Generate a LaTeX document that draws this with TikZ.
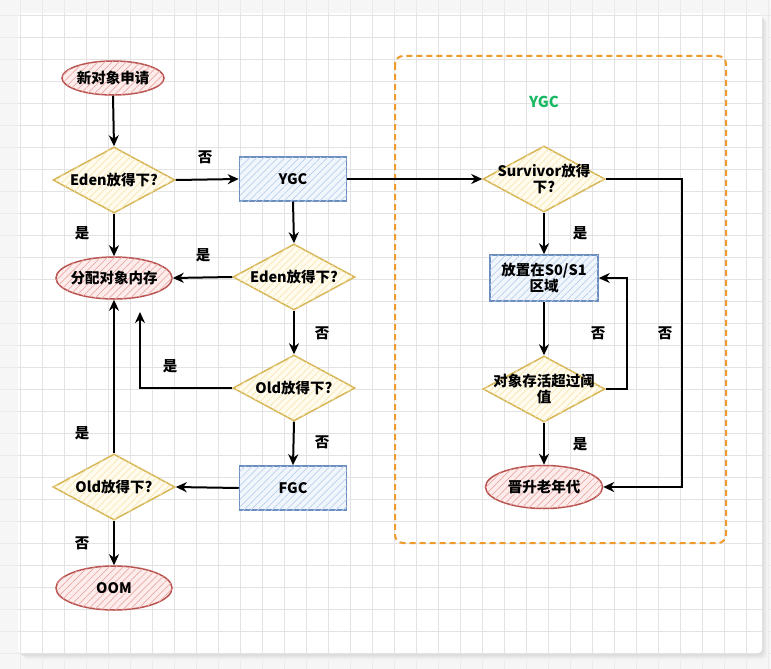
\documentclass[tikz,border=0pt]{standalone}
\usepackage{fontspec}
\setmainfont{Noto Sans CJK SC}
\usetikzlibrary{shapes.geometric,arrows.meta,patterns.meta,calc}
\definecolor{ellline}{HTML}{B85450}
\definecolor{ellfill}{HTML}{FCEDEC}
\definecolor{ellhatch}{HTML}{EEA9A7}
\definecolor{dialine}{HTML}{D6B656}
\definecolor{diafill}{HTML}{FFFBEE}
\definecolor{diahatch}{HTML}{F8E7B0}
\definecolor{recline}{HTML}{6C8EBF}
\definecolor{recfill}{HTML}{F1F6FD}
\definecolor{rechatch}{HTML}{BCD0EC}
\definecolor{orangeline}{HTML}{EE9A2C}
\definecolor{greentxt}{HTML}{18B863}
\definecolor{gridc}{HTML}{E3E3E3}
\definecolor{outbg}{HTML}{F6F6F6}
\begin{document}
\begin{tikzpicture}[x=1pt,y=-1pt,
  txt/.style={font=\bfseries\fontsize{14.5}{16.5}\selectfont, align=center, inner sep=0pt, text=black},
  T/.style={label={[txt]center:{#1}}},
  ell/.style={ellipse, draw=ellline, line width=1.5pt, fill=ellfill,
    postaction={pattern={Lines[angle=45,distance=5pt,line width=0.7pt]}, pattern color=ellhatch},
    inner sep=0pt},
  dia/.style={diamond, draw=dialine, line width=1.5pt, fill=diafill,
    postaction={pattern={Lines[angle=45,distance=5pt,line width=0.7pt]}, pattern color=diahatch},
    inner sep=0pt, minimum width=122pt, minimum height=66pt},
  rec/.style={rectangle, draw=recline, line width=1.5pt, fill=recfill,
    postaction={pattern={Lines[angle=45,distance=5pt,line width=0.7pt]}, pattern color=rechatch},
    inner sep=0pt},
  arr/.style={line width=2pt, draw=black, -{Stealth[length=11pt,width=10pt,inset=3.5pt]}},
  el/.style={font=\bfseries\fontsize{14.5}{16.5}\selectfont, inner sep=0pt, text=black}
]
\useasboundingbox (0,0) rectangle (771,669);
% background
\fill[outbg] (0,0) rectangle (771,669);
\foreach \x in {20,42,...,771} \draw[gridc!70, line width=0.7pt] (\x,0) -- (\x,669);
\foreach \y in {15,37,...,669} \draw[gridc!70, line width=0.7pt] (0,\y) -- (771,\y);
% card shadow
\foreach \o/\c in {7/4,6/6,5/8,4/10,3/13} \fill[black!\c, rounded corners=5] (18+\o-1,13+\o) rectangle (762+\o-1,653+\o);
\fill[white, rounded corners=4] (18,13) rectangle (762,653);
\begin{scope}
\clip[rounded corners=4] (18,13) rectangle (762,653);
\foreach \x in {20,42,...,771} \draw[gridc, line width=0.7pt] (\x,13) -- (\x,653);
\foreach \y in {15,37,...,669} \draw[gridc, line width=0.7pt] (18,\y) -- (762,\y);
\end{scope}

% dashed group box
\draw[orangeline, line width=2pt, dash pattern=on 6pt off 4pt, rounded corners=8] (395,56) rectangle (726,543);
\node[font=\bfseries\fontsize{15}{17}\selectfont, text=greentxt] (ygclbl) at (544,102) {YGC};

% left column
\node[ell, minimum width=102pt, minimum height=34pt, T=新对象申请] (n1) at (113,78) {};
\node[dia, T=Eden放得下?] (d1) at (114,180) {};
\node[ell, minimum width=116pt, minimum height=42pt, T=分配对象内存] (e2) at (114,278) {};
\node[dia, T=Old放得下?] (d4) at (114,487) {};
\node[ell, minimum width=116pt, minimum height=44pt, T=OOM] (e3) at (114,588) {};
% middle column
\node[rec, minimum width=107pt, minimum height=44pt, T=YGC] (r1) at (293,179) {};
\node[dia, T=Eden放得下?] (d2) at (294,277) {};
\node[dia, T=Old放得下?] (d3) at (294,388) {};
\node[rec, minimum width=107pt, minimum height=44pt, T=FGC] (r2) at (293,488) {};
% right column
\node[dia, T={Survivor放得\\下?}] (d5) at (544,179) {};
\node[rec, minimum width=108pt, minimum height=46pt, T={放置在S0/S1\\区域}] (r3) at (544,278) {};
\node[dia, T={对象存活超过阈\\值}] (d6) at (544,389) {};
\node[ell, minimum width=117pt, minimum height=43pt, T=晋升老年代] (e4) at (544,487) {};

\coordinate (c1) at (140,312);
\coordinate (c2) at (682,487);
\coordinate (c3) at (627,389);

% connectors
\draw[arr] (n1.south) -- (d1.north);
\draw[arr] (d1.east) -- (r1.west);
\draw[arr] (r1.east) -- (d5.west);
\draw[arr] (d1.south) -- (e2.north);
\draw[arr] (r1.south) -- (d2.north);
\draw[arr] (d2.west) -- (e2.east);
\draw[arr] (d2.south) -- (d3.north);
\draw[arr] (d3.west) -| (c1);
\draw[arr] (d3.south) -- (r2.north);
\draw[arr] (r2.west) -- (d4.east);
\draw[arr] (d4.north) -- (e2.south);
\draw[arr] (d4.south) -- (e3.north);
\draw[arr] (d5.east) -| (c2) -- (e4.east);
\draw[arr] (d5.south) -- (r3.north);
\draw[arr] (r3.south) -- (d6.north);
\draw[arr] (d6.east) -- (c3) |- (r3.east);
\draw[arr] (d6.south) -- (e4.north);

% edge labels
\node[el] (l1) at (205,157) {否};
\node[el] (l2) at (82,233) {是};
\node[el] (l3) at (203,255) {是};
\node[el] (l4) at (322,333) {否};
\node[el] (l5) at (170,366) {是};
\node[el] (l6) at (322,442) {否};
\node[el] (l7) at (82,433) {是};
\node[el] (l8) at (82,543) {否};
\node[el] (l9) at (580,233) {是};
\node[el] (l10) at (598,333) {否};
\node[el] (l11) at (665,333) {否};
\node[el] (l12) at (580,444) {是};
\end{tikzpicture}
\end{document}
